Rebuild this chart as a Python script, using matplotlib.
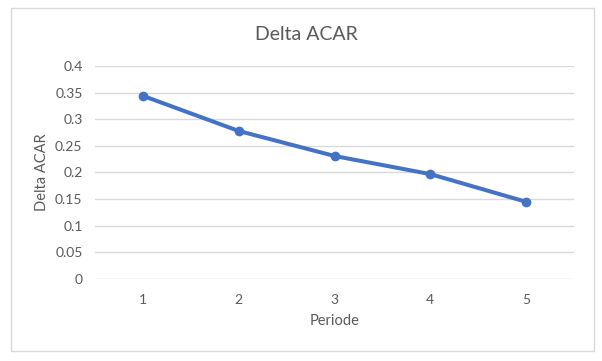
import matplotlib.pyplot as plt
from matplotlib.patches import Rectangle

# data
periode = [1, 2, 3, 4, 5]
delta_acar = [0.344, 0.278, 0.231, 0.197, 0.145]
y_ticks = [0, 0.05, 0.1, 0.15, 0.2, 0.25, 0.3, 0.35, 0.4]
y_labels = ['0', '0.05', '0.1', '0.15', '0.2', '0.25', '0.3', '0.35', '0.4']

W, H = 602, 361
txt = '#595959'
plt.rcParams['font.family'] = ['Lato', 'DejaVu Sans']

fig = plt.figure(figsize=(W / 100, H / 100), dpi=100)
fig.patch.set_facecolor('white')

# light gray chart border
fig.patches.append(Rectangle((10.5 / W, 1 - 350.5 / H), 583.5 / W, 343 / H,
                             transform=fig.transFigure, fill=False,
                             edgecolor='#D9D9D9', linewidth=1))

ax = fig.add_axes([95 / W, 1 - 279 / H, 479 / W, 213 / H])
ax.plot(periode, delta_acar, color='#4472C4', linewidth=2.9,
        marker='o', markersize=6, solid_capstyle='round')

ax.set_xlim(0.5, 5.5)
ax.set_ylim(0, 0.4)
ax.set_yticks(y_ticks)
ax.set_yticklabels(y_labels)
ax.set_xticks(periode)
ax.grid(axis='y', color='#D9D9D9', linewidth=1)
ax.set_axisbelow(True)
for s in ax.spines.values():
    s.set_visible(False)
ax.tick_params(length=0, colors=txt, labelsize=10)
ax.tick_params(axis='y', pad=9)
ax.tick_params(axis='x', pad=11)

fig.text(306 / W, 1 - 35 / H, 'Delta ACAR', ha='center', va='center',
         fontsize=14, color=txt)
fig.text(335 / W, 1 - 321 / H, 'Periode', ha='center', va='center',
         fontsize=10.5, color=txt)
fig.text(42 / W, 1 - 172 / H, 'Delta ACAR', ha='center', va='center',
         rotation=90, fontsize=10.5, color=txt)

fig.savefig('out.png', dpi=100, facecolor='white')
